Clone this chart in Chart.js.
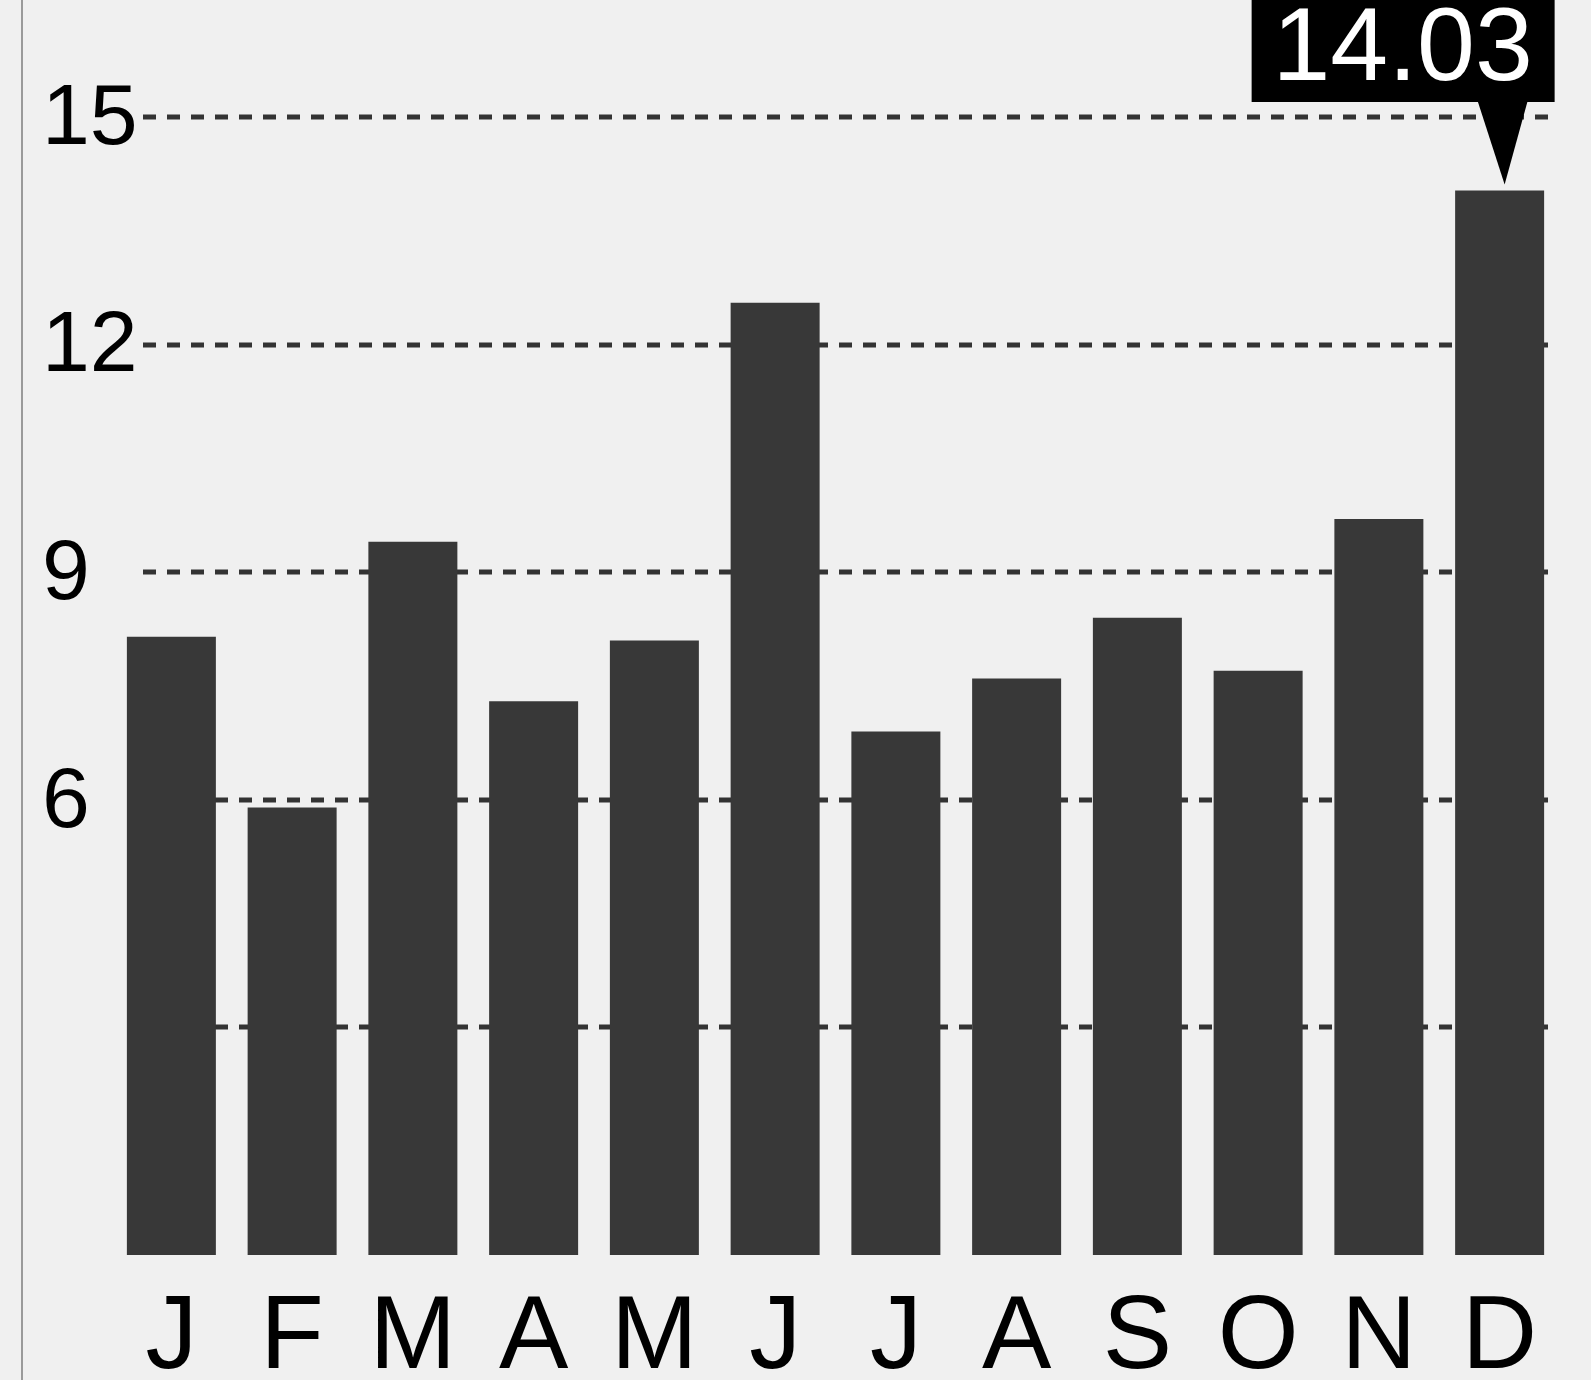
<!DOCTYPE html>
<html>
<head>
<meta charset="utf-8">
<script src="https://cdn.jsdelivr.net/npm/chart.js"></script>
<style>
  html, body { margin:0; padding:0; background:#f0f0f0; }
  #wrap { width:1591px; height:1380px; }
</style>
</head>
<body>
<div id="wrap"><canvas id="mycanvas" width="1591" height="1380"></canvas></div>
<script>
// monthly values
var months = ['J','F','M','A','M','J','J','A','S','O','N','D'];
var values = [8.15, 5.9, 9.4, 7.3, 8.1, 12.55, 6.9, 7.6, 8.4, 7.7, 9.7, 14.03];
var yTicks = [6, 9, 12, 15];
var gridValues = [3, 6, 9, 12, 15];
var calloutIndex = 11;
var calloutText = '14.03';

var fontFam = '"Liberation Sans", Arial, Helvetica, sans-serif';

var decor = {
	id: 'decor',
	beforeDraw: function(chart) {
		var c = chart.ctx;
		c.save();
		c.fillStyle = '#f0f0f0';
		c.fillRect(0, 0, chart.width, chart.height);
		// thin rule on the left edge
		c.strokeStyle = '#9a9a9a';
		c.lineWidth = 2;
		c.beginPath();
		c.moveTo(22, 0);
		c.lineTo(22, chart.height);
		c.stroke();
		c.restore();
	},
	beforeDatasetsDraw: function(chart) {
		var c = chart.ctx;
		var y = chart.scales.y;
		var area = chart.chartArea;
		c.save();
		// dashed grid
		c.strokeStyle = '#333333';
		c.lineWidth = 5;
		c.setLineDash([13, 11]);
		for (var i = 0; i < gridValues.length; i++) {
			var py = Math.round(y.getPixelForValue(gridValues[i]));
			c.beginPath();
			c.moveTo(143, py);
			c.lineTo(area.right - 6, py);
			c.stroke();
		}
		// y labels (the scale would clip them at its own edge)
		c.setLineDash([]);
		c.fillStyle = '#000000';
		c.font = '86px ' + fontFam;
		c.textAlign = 'left';
		c.textBaseline = 'middle';
		for (var j = 0; j < yTicks.length; j++) {
			c.fillText(String(yTicks[j]), 42, y.getPixelForValue(yTicks[j]) + 3);
		}
		c.restore();
	},
	afterDatasetsDraw: function(chart) {
		var c = chart.ctx;
		var bar = chart.getDatasetMeta(0).data[calloutIndex];
		var area = chart.chartArea;
		var bx = bar.x;
		var boxBottom = area.top - 15;
		c.save();
		c.fillStyle = '#000000';
		c.fillRect(bx - 248, -20, 303, boxBottom + 20);
		c.beginPath();
		c.moveTo(bx - 22, boxBottom - 1);
		c.lineTo(bx + 28, boxBottom - 1);
		c.lineTo(bx + 5, bar.y - 6);
		c.closePath();
		c.fill();
		c.fillStyle = '#ffffff';
		c.font = '104px ' + fontFam;
		c.textAlign = 'center';
		c.textBaseline = 'alphabetic';
		c.fillText(calloutText, bx - 97, 80);
		c.restore();
	}
};

var ctx = document.getElementById('mycanvas');

var chartdata = {
	labels: months,
	datasets: [
		{
			data: values,
			backgroundColor: '#383838',
			borderWidth: 0,
			barPercentage: 0.737,
			categoryPercentage: 1.0
		}
	]
};

var BarGraph = new Chart(ctx, {
	type: 'bar',
	data: chartdata,
	plugins: [decor],
	options: {
		responsive: false,
		animation: false,
		events: [],
		layout: { padding: { left: 42, right: 31, top: 117, bottom: 0 } },
		plugins: {
			legend: { display: false },
			tooltip: { enabled: false }
		},
		scales: {
			x: {
				grid: { display: false },
				border: { display: false },
				ticks: {
					color: '#000000',
					font: { family: fontFam, size: 104 },
					padding: 14,
					maxRotation: 0,
					autoSkip: false
				},
				afterFit: function(scale) { scale.height = 125; }
			},
			y: {
				min: 0,
				max: 15,
				grid: { display: false },
				border: { display: false },
				ticks: { display: false, stepSize: 3 },
				afterFit: function(scale) { scale.width = 69; }
			}
		}
	}
});
</script>
</body>
</html>
